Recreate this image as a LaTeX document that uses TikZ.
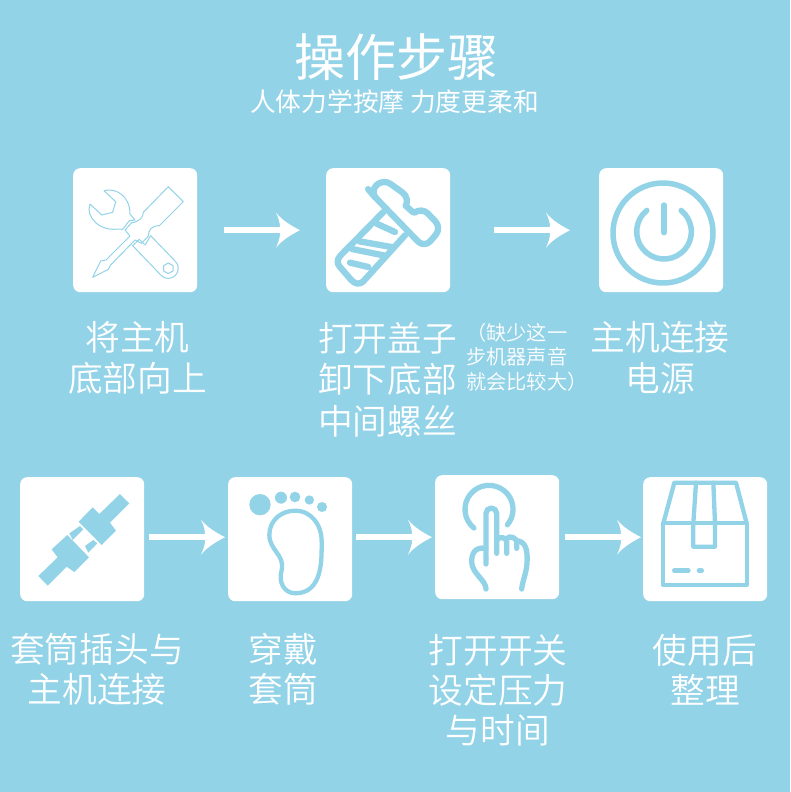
\documentclass[tikz,border=0pt]{standalone}
\usepackage{fontspec}
\usetikzlibrary{arrows.meta}
\setmainfont{Noto Sans CJK SC}
\newfontfamily\lightcjk{Noto Sans CJK SC DemiLight}
\definecolor{sky}{HTML}{93D3E8}
\pgfdeclarearrow{
  name=Swoop,
  setup code={\pgfarrowssettipend{24pt}\pgfarrowssetlineend{5pt}\pgfarrowssetbackend{0pt}\pgfarrowssetvisualbackend{4pt}},
  drawing code={
    \pgfsetfillcolor{white}
    \pgfpathmoveto{\pgfpoint{24pt}{0pt}}
    \pgfpathcurveto{\pgfpoint{15pt}{4.5pt}}{\pgfpoint{6pt}{10pt}}{\pgfpoint{0pt}{17.5pt}}
    \pgfpathcurveto{\pgfpoint{3pt}{11pt}}{\pgfpoint{4pt}{7pt}}{\pgfpoint{4pt}{3pt}}
    \pgfpathlineto{\pgfpoint{4pt}{-3pt}}
    \pgfpathcurveto{\pgfpoint{4pt}{-7pt}}{\pgfpoint{3pt}{-11pt}}{\pgfpoint{0pt}{-17.5pt}}
    \pgfpathcurveto{\pgfpoint{6pt}{-10pt}}{\pgfpoint{15pt}{-4.5pt}}{\pgfpoint{24pt}{0pt}}
    \pgfpathclose
    \pgfusepathqfill
  },
}
\tikzset{
  card/.style={fill=white,rounded corners=7pt,minimum width=124pt,minimum height=124pt,inner sep=0pt,anchor=north west},
  flow/.style={draw=white,line width=6pt,-{Swoop}},
  steptext/.style={text=white,align=center,inner sep=0pt,font=\lightcjk\fontsize{34.7}{41.5}\selectfont},
  lowtext/.style={text=white,align=center,inner sep=0pt,font=\lightcjk\fontsize{34.7}{40}\selectfont},
  ico/.style={draw=sky,line cap=round,line join=round},
}
\begin{document}
\begin{tikzpicture}[x=1pt,y=-1pt]
\useasboundingbox (0,0) rectangle (790,792);
\fill[sky] (0,0) rectangle (790,792);
\node[text=white,inner sep=0pt,font=\fontsize{51}{50}\selectfont] (title) at (396,57) {操作步骤};
\node[text=white,inner sep=0pt,font=\fontsize{25.7}{24}\selectfont] (sub) at (394.5,102) {人体力学按摩 力度更柔和};
\node[card] (b1) at (73,168) {};
\node[card] (b2) at (326,168) {};
\node[card] (b3) at (599,168) {};
\node[card] (b4) at (20,477) {};
\node[card] (b5) at (228,477) {};
\node[card] (b6) at (435,475) {};
\node[card] (b7) at (643,477) {};
\draw[flow,shorten <=27pt,shorten >=26pt] (b1) -- (b2);
\draw[flow,shorten <=44pt,shorten >=29pt] (b2) -- (b3);
\draw[flow,shorten <=5pt,shorten >=3pt] ([yshift=2pt]b4.east) -- ([yshift=2pt]b5.west);
\draw[flow,shorten <=4pt,shorten >=3pt] (b6.west -| b5.east) -- (b6.west);
\draw[flow,shorten <=6pt,shorten >=2pt] (b6.east) -- (b6.east -| b7.west);
\node[steptext] (t1) at (137.5,358) {将主机\\底部向上};
\node[steptext] (t2) at (387.5,379.5) {打开盖子\\卸下底部\\中间螺丝};
\node[text=white,align=left,inner sep=0pt,anchor=west,font=\lightcjk\fontsize{20.2}{24.5}\selectfont] (note) at (466,357) {（缺少这一\\步机器声音\\就会比较大）};
\node[steptext] (t3) at (660,358) {主机连接\\电源};
\node[lowtext] (t4) at (97,669.5) {套筒插头与\\主机连接};
\node[lowtext] (t5) at (283,669.5) {穿戴\\套筒};
\node[lowtext] (t6) at (498,690) {打开开关\\设定压力\\与时间};
\node[lowtext] (t7) at (705,669.5) {使用后\\整理};
% wrench and screwdriver
\begin{scope}[shift={(80,180)},scale=1/3,ico,line width=1pt]
\draw (265,20)--(310,65)--(238,137) .. controls (215,137) and (205,150) .. (205,168)--(185,190)--(165,180)--(92,255)--(85,268)--(38,292)--(62,243)--(78,240)--(150,168)--(135,150)--(155,128) .. controls (180,125) and (190,110) .. (190,97)--cycle;
\draw (72,32) .. controls (110,22) and (150,50) .. (150,102)--(165,120)--(148,122)--(128,148)--(112,147) .. controls (60,155) and (15,110) .. (30,72)--(65,105)--(98,97)--(107,65)--cycle;
\draw (212,167)--(286,244) arc[start angle=-45,end angle=135,radius=30]--(158,197)--(178,178)--(195,195)--cycle;
\draw (265,249)--(279,257)--(279,273)--(265,281)--(251,273)--(251,257)--cycle;
\end{scope}
% screw
\begin{scope}[shift={(330,172)},scale=1/3,ico,line width=6.3pt]
\draw[rounded corners=9pt] (120,58)--(160,20)--(240,78) .. controls (228,100) and (250,125) .. (275,105)--(335,168)--(283,228)--(132,72)--cycle;
\draw (160,120)--(32,250) .. controls (18,265) and (22,275) .. (30,285)--(62,322) .. controls (75,338) and (90,338) .. (100,328)--(225,190);
\draw (140,155)--(195,180);
\draw (88,208)--(190,226);
\draw (66,231)--(165,251);
\draw (60,272)--(115,285);
\end{scope}
% power
\begin{scope}[shift={(590,160)},scale=1/3,ico,line width=5.5pt]
\draw (219,219) circle (150);
\draw (222,215) ++(231:82) arc[start angle=231,end angle=-51,radius=82];
\draw (222,135)--(222,218);
\end{scope}
% coupling
\begin{scope}[shift={(10,470)},scale=1/3]
\fill[sky] (330,72)--(358,100)--(300,158)--(318,182)--(275,225)--(206,155)--(248,112)--(268,132)--cycle;
\fill[sky] (85,318)--(113,347)--(170,290)--(193,306)--(237,262)--(172,195)--(125,238)--(143,262)--cycle;
\fill[sky] (178,190)--(210,168)--(220,178)--(188,210)--cycle;
\fill[sky] (225,228)--(250,210)--(262,220)--(235,248)--cycle;
\end{scope}
% foot
\begin{scope}[shift={(10,470)},scale=1/3]
\fill[sky] (750,104) circle (32);
\fill[sky] (813,83) circle (18);
\fill[sky] (855,81) circle (16);
\fill[sky] (898,90) circle (14);
\fill[sky] (936,111) circle (15);
\draw[ico,line width=4.3pt] (855,122) .. controls (905,122) and (935,165) .. (935,215) .. controls (935,270) and (938,370) .. (855,370) .. controls (820,368) and (805,335) .. (815,300) .. controls (825,255) and (778,240) .. (778,195) .. controls (778,150) and (815,122) .. (855,122)--cycle;
\end{scope}
% hand
\begin{scope}[shift={(425,470)},scale=1/3,ico,line width=5.3pt]
\draw (192,118) ++(129:72) arc[start angle=129,end angle=400,radius=72];
\draw (183,282)--(183,130) arc[start angle=180,end angle=360,radius=16]--(215,250);
\draw (215,210) .. controls (225,195) and (245,205) .. (245,215)--(245,250);
\draw (245,205) .. controls (255,195) and (275,205) .. (275,215)--(275,235);
\draw (275,212) .. controls (305,215) and (308,245) .. (306,280) .. controls (304,310) and (292,335) .. (290,357);
\draw (183,235) .. controls (150,230) and (140,250) .. (140,275) .. controls (140,310) and (183,330) .. (183,357);
\end{scope}
% box
\begin{scope}[shift={(425,470)},scale=1/3,ico,line width=4.3pt]
\draw (715,160)--(965,160)--(965,345)--(715,345)--cycle;
\draw (715,160)--(748,38)--(933,38)--(965,160);
\draw (813,38)--(805,160)--(805,230)--(870,230)--(870,160)--(865,38);
\draw[line width=4.6pt] (748,302)--(790,302);
\draw[line width=4.6pt] (822,302)--(830,302);
\end{scope}
\end{tikzpicture}
\end{document}
